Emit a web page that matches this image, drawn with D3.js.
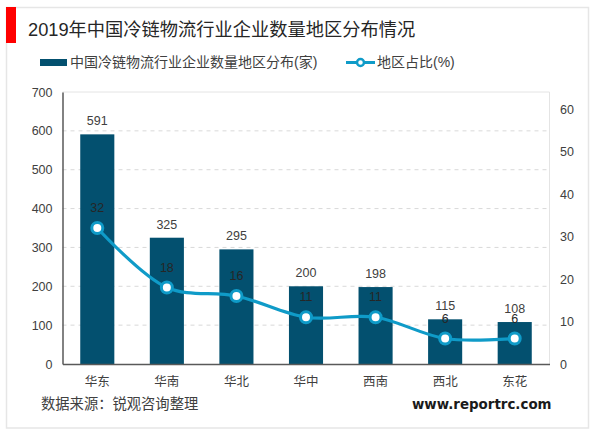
<!DOCTYPE html>
<html><head><meta charset="utf-8">
<script src="https://cdn.jsdelivr.net/npm/d3@7/dist/d3.min.js"></script>
<style>html,body{margin:0;padding:0;background:#fff}svg{display:block}text{font-family:"Liberation Sans","Noto Sans CJK SC",sans-serif}</style>
</head><body><svg id="c" width="600" height="433"></svg>
<script>
const categories=["华东","华南","华北","华中","西南","西北","东花"];
const companyCounts=[591,325,295,200,198,115,108];
const sharePercents=[32,18,16,11,11,6,6];
const leftTicks=[0,100,200,300,400,500,600,700];
const rightTicks=[0,10,20,30,40,50,60];
const titleText="2019年中国冷链物流行业企业数量地区分布情况";
const barLegend="中国冷链物流行业企业数量地区分布(家)";
const lineLegend="地区占比(%)";
const sourceText="数据来源：锐观咨询整理";
const siteText="www.reportrc.com";

const svg=d3.select("#c");
const L=62.5,R=549.5,T=92,B=364;
const TXT="#404040",BAR="#03506F",LINE="#0F9BC8",GRID="#d9d9d9";
svg.append("rect").attr("x",6.5).attr("y",7.5).attr("width",582).attr("height",420.5).attr("fill","none").attr("stroke","#e6e6e6").attr("stroke-width",1.5);
svg.append("rect").attr("x",6).attr("y",7).attr("width",10).attr("height",36).attr("fill","#ff0000");
svg.append("text").attr("x",28).attr("y",36).attr("font-size",18.25).attr("fill","#262626").text(titleText);

const x=d3.scaleBand().domain(categories).range([L,R]).paddingInner(0.51).paddingOuter(0.255);
const y=d3.scaleLinear().domain([0,700]).range([B,T]);
const y2=d3.scaleLinear().domain([0,64]).range([B,T]);

svg.append("g").selectAll("line").data(leftTicks.filter(d=>d>0&&d<700)).join("line")
 .attr("x1",L).attr("x2",R).attr("y1",d=>y(d)).attr("y2",d=>y(d))
 .attr("stroke",GRID).attr("stroke-dasharray","4 4");
svg.append("path").attr("d",`M${L},${T}H${R}V${B}`).attr("fill","none").attr("stroke","#e4e4e4").attr("stroke-width",1);

svg.append("g").selectAll("rect").data(categories).join("rect")
 .attr("x",d=>x(d)).attr("width",x.bandwidth())
 .attr("y",(d,i)=>y(companyCounts[i])).attr("height",(d,i)=>B-y(companyCounts[i])).attr("fill",BAR);

const ax=svg.append("g").attr("transform",`translate(${L},0)`).call(d3.axisLeft(y).tickValues(leftTicks).tickSize(0).tickPadding(10));
ax.select(".domain").attr("stroke","#595959").attr("stroke-width",1.5);
ax.selectAll("text").attr("font-size",12.5).attr("fill",TXT);
const ax2=svg.append("g").attr("transform",`translate(${R},0)`).call(d3.axisRight(y2).tickValues(rightTicks).tickSize(0).tickPadding(10.5));
ax2.select(".domain").remove();
ax2.selectAll("text").attr("font-size",12.5).attr("fill",TXT);
const ax3=svg.append("g").attr("transform",`translate(0,${B})`).call(d3.axisBottom(x).tickSize(0).tickPadding(13));
ax3.select(".domain").attr("stroke","#595959").attr("stroke-width",1.5);
ax3.selectAll("text").attr("font-size",12.5).attr("fill",TXT);

const cx=(d,i)=>x(categories[i])+x.bandwidth()/2;
svg.append("path").datum(sharePercents)
 .attr("d",d3.line().x(cx).y(d=>y2(d)).curve(d3.curveCatmullRom.alpha(0.5)))
 .attr("fill","none").attr("stroke",LINE).attr("stroke-width",3.2);
svg.append("g").selectAll("circle").data(sharePercents).join("circle")
 .attr("cx",cx).attr("cy",d=>y2(d)).attr("r",5.5).attr("fill","#fff").attr("stroke",LINE).attr("stroke-width",3);

svg.append("g").selectAll("text").data(companyCounts).join("text")
 .attr("x",cx).attr("y",d=>y(d)-9).attr("text-anchor","middle").attr("font-size",12.5).attr("fill",TXT).text(d=>d);
svg.append("g").selectAll("text").data(sharePercents).join("text")
 .attr("x",cx).attr("y",d=>y2(d)-16).attr("text-anchor","middle").attr("font-size",12.5).attr("fill","#262626").text(d=>d);

svg.append("rect").attr("x",40).attr("y",59).attr("width",27).attr("height",7).attr("fill",BAR);
svg.append("text").attr("x",70).attr("y",67).attr("font-size",14).attr("fill",TXT).text(barLegend);
svg.append("line").attr("x1",346).attr("x2",375).attr("y1",62.5).attr("y2",62.5).attr("stroke",LINE).attr("stroke-width",3);
svg.append("circle").attr("cx",360.5).attr("cy",62.5).attr("r",3.5).attr("fill","#fff").attr("stroke",LINE).attr("stroke-width",2.5);
svg.append("text").attr("x",377).attr("y",67).attr("font-size",14).attr("fill",TXT).text(lineLegend);

svg.append("text").attr("x",41).attr("y",409).attr("font-size",14.3).attr("fill",TXT).text(sourceText);
svg.append("text").attr("x",412).attr("y",409).attr("font-size",13.4).attr("font-weight","bold").attr("fill","#1a1a1a").style("font-family","'DejaVu Sans'").text(siteText);
</script></body></html>
